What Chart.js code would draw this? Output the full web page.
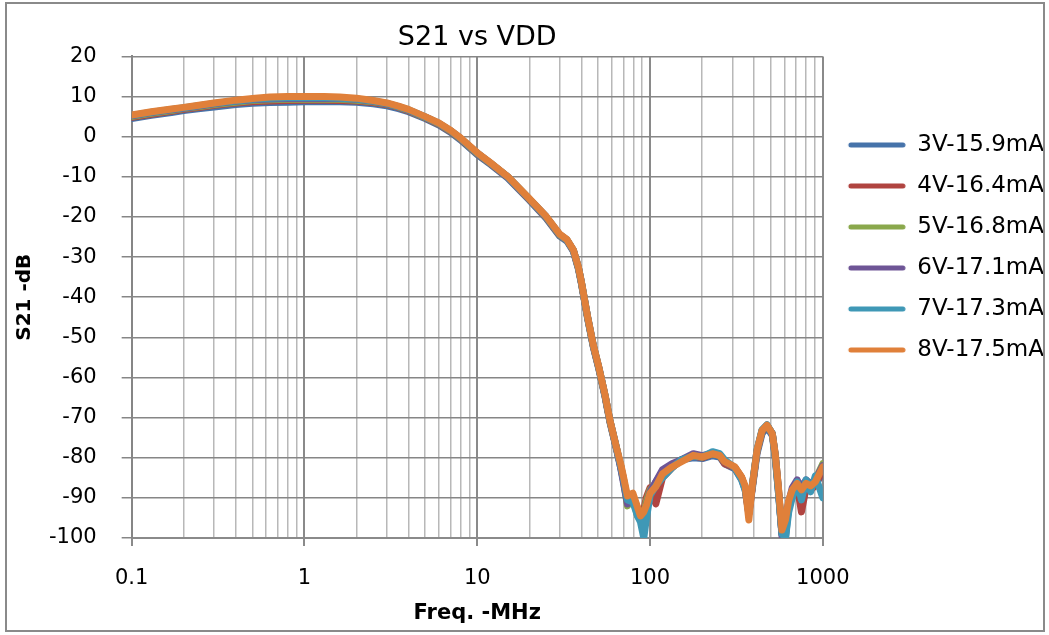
<!DOCTYPE html>
<html>
<head>
<meta charset="utf-8">
<script src="https://cdn.jsdelivr.net/npm/chart.js@4.4.1/dist/chart.umd.min.js"></script>
<style>
  body { margin: 0; background: #fff; }
  #wrap { position: relative; width: 1049px; height: 635px; }
  #frame { position: absolute; left: 5px; top: 2px; width: 1036px; height: 626px; border: 2px solid #8a8a8a; pointer-events: none; }
  canvas { position: absolute; left: 0; top: 0; }
</style>
</head>
<body>
<div id="wrap">
  <canvas id="s21Chart" width="1049" height="635"></canvas>
  <div id="frame"></div>
</div>
<script>
// frequency points, MHz
const freq = [0.1, 0.13, 0.17, 0.2, 0.25, 0.3, 0.4, 0.5, 0.63, 0.8,
  1, 1.3, 1.6, 2, 2.5, 3, 3.5, 4, 5, 6,
  7, 8, 10, 12, 15, 20, 25, 30, 33, 36,
  38.5, 40, 43.6, 47, 50.6, 55, 58.5, 64, 67.6, 70,
  74, 79.5, 84.6, 88, 92, 95, 100, 108, 118, 134,
  152, 178, 201, 230, 253, 270, 310, 339, 355, 373,
  390, 416, 445, 475, 510, 530, 553, 580, 608, 635,
  665, 710, 752, 800, 850, 905, 1000];

// S21 in dB for each supply voltage
const s3V = [4.5, 5.3, 6.0, 6.5, 7.0, 7.4, 8.0, 8.3, 8.5, 8.6,
  8.7, 8.7, 8.7, 8.6, 8.2, 7.7, 7.0, 6.2, 4.5, 2.9,
  1.1, -0.8, -4.5, -7.0, -10.3, -15.8, -20.3, -24.8, -26.0, -28.6,
  -33.0, -36.5, -45.5, -52.5, -58.0, -65.0, -71.0, -78.0, -82.5, -85.5,
  -91.0, -90.0, -93.5, -95.0, -94.0, -92.5, -89.0, -86.0, -83.5, -82.0,
  -80.5, -80.0, -80.2, -79.5, -79.8, -81.5, -82.8, -85.5, -88.0, -94.0,
  -88.0, -79.0, -74.0, -72.5, -74.5, -80.0, -88.5, -99.0, -100.0, -92.0,
  -89.0, -87.0, -88.5, -87.0, -87.5, -86.5, -84.0];
const s4V = [4.8, 5.6, 6.3, 6.8, 7.3, 7.8, 8.4, 8.7, 8.9, 9.0,
  9.1, 9.1, 9.0, 8.9, 8.5, 8.0, 7.3, 6.4, 4.7, 3.1,
  1.3, -0.6, -4.3, -6.8, -10.1, -15.6, -20.1, -24.6, -25.8, -28.4,
  -32.8, -36.3, -45.3, -52.3, -57.8, -64.8, -70.8, -77.8, -82.0, -85.0,
  -90.5, -89.5, -92.5, -94.0, -93.0, -90.0, -87.5, -91.5, -85.0, -82.5,
  -80.5, -79.5, -80.0, -79.0, -79.5, -81.5, -82.5, -85.0, -87.5, -94.0,
  -87.5, -78.5, -73.5, -72.0, -74.0, -79.5, -88.0, -98.5, -96.0, -91.0,
  -88.5, -87.0, -93.5, -87.5, -88.0, -87.0, -83.0];
const s5V = [5.0, 5.8, 6.5, 7.0, 7.5, 8.0, 8.6, 9.0, 9.2, 9.3,
  9.3, 9.3, 9.3, 9.1, 8.7, 8.1, 7.4, 6.5, 4.8, 3.2,
  1.4, -0.5, -4.2, -6.7, -10.0, -15.5, -20.0, -24.5, -25.7, -28.3,
  -32.7, -36.2, -45.2, -52.2, -57.7, -64.7, -70.7, -77.7, -82.0, -85.5,
  -92.0, -90.0, -94.5, -95.5, -94.0, -91.0, -88.0, -86.5, -84.0, -82.0,
  -80.5, -79.5, -79.8, -79.0, -79.5, -81.0, -82.5, -85.0, -87.5, -93.0,
  -87.5, -78.3, -73.3, -72.0, -74.0, -79.2, -87.5, -99.0, -98.0, -92.5,
  -89.0, -87.0, -88.0, -86.5, -86.5, -85.5, -81.5];
const s6V = [5.2, 6.0, 6.7, 7.1, 7.7, 8.2, 8.8, 9.2, 9.4, 9.5,
  9.5, 9.5, 9.5, 9.3, 8.8, 8.2, 7.5, 6.6, 4.9, 3.3,
  1.5, -0.4, -4.1, -6.7, -10.0, -15.5, -19.9, -24.4, -25.7, -28.3,
  -32.6, -36.1, -45.1, -52.1, -57.6, -64.6, -70.6, -77.6, -82.5, -86.0,
  -91.5, -90.5, -93.5, -95.0, -94.5, -92.0, -88.5, -86.0, -83.0, -81.5,
  -80.5, -79.0, -79.5, -78.8, -79.2, -81.0, -82.5, -85.0, -87.5, -93.5,
  -87.5, -78.2, -73.2, -71.9, -74.0, -79.0, -87.5, -99.5, -97.0, -91.0,
  -87.5, -85.5, -87.5, -85.5, -86.5, -85.5, -82.0];
const s7V = [5.3, 6.1, 6.8, 7.2, 7.8, 8.3, 8.9, 9.3, 9.6, 9.7,
  9.7, 9.7, 9.6, 9.4, 8.9, 8.3, 7.5, 6.7, 4.9, 3.3,
  1.5, -0.4, -4.1, -6.7, -10.0, -15.5, -19.9, -24.4, -25.7, -28.3,
  -32.6, -36.1, -45.1, -52.1, -57.6, -64.6, -70.6, -77.6, -82.0, -85.0,
  -90.5, -91.0, -94.5, -96.0, -100.0, -95.5, -89.5, -87.0, -85.0, -82.5,
  -80.5, -79.5, -79.8, -78.5, -79.0, -80.5, -82.5, -85.5, -88.0, -93.0,
  -87.0, -78.0, -73.0, -71.8, -74.0, -79.5, -88.5, -99.0, -100.0, -93.5,
  -90.0, -86.0, -90.5, -85.5, -88.5, -84.5, -90.0];
const s8V = [5.4, 6.2, 6.9, 7.3, 7.9, 8.4, 9.1, 9.5, 9.9, 10.0,
  10.0, 10.0, 9.9, 9.6, 9.0, 8.4, 7.6, 6.8, 5.0, 3.4,
  1.6, -0.3, -4.0, -6.6, -9.9, -15.4, -19.8, -24.3, -25.6, -28.2,
  -32.5, -36.0, -45.0, -52.0, -57.5, -64.5, -70.5, -77.5, -81.5, -84.5,
  -89.5, -88.8, -92.3, -94.5, -93.5, -92.0, -88.8, -87.2, -84.0, -82.3,
  -81.0, -79.4, -79.8, -79.0, -79.4, -81.0, -82.3, -84.8, -87.0, -95.5,
  -87.2, -78.1, -73.2, -71.9, -74.0, -79.0, -87.2, -98.0, -95.5, -90.6,
  -88.0, -86.4, -88.0, -86.4, -87.0, -86.0, -82.3];

const seriesNames = ["3V-15.9mA", "4V-16.4mA", "5V-16.8mA", "6V-17.1mA", "7V-17.3mA", "8V-17.5mA"];
const seriesColors = ["#4673aa", "#b04440", "#8aa84c", "#6e5596", "#3f98b6", "#e0803a"];

// x axis: labels only on decades, grid on every 1..9 step
const decades = [0.1, 1, 10, 100, 1000];
const decadeLabels = ["0.1", "1", "10", "100", "1000"];
let gridValues = [];
for (let d = 0; d < decades.length - 1; d++) {
  for (let k = 1; k < 10; k++) gridValues.push(decades[d] * k);
}
gridValues.push(1000);

function isDecade(v) {
  return decades.indexOf(v) >= 0;
}

// legend swatch: a short thick line, shifted right a little
function legendLine(color) {
  const c = document.createElement("canvas");
  c.width = 65;
  c.height = 8;
  const g = c.getContext("2d");
  g.strokeStyle = color;
  g.lineWidth = 5;
  g.lineCap = "round";
  g.beginPath();
  g.moveTo(10, 4);
  g.lineTo(62, 4);
  g.stroke();
  return c;
}

const font = "DejaVu Sans";
const allSeries = [s3V, s4V, s5V, s6V, s7V, s8V];

const datasets = allSeries.map(function (vals, i) {
  return {
    label: seriesNames[i],
    data: freq.map(function (f, j) { return { x: f, y: vals[j] }; }),
    borderColor: seriesColors[i],
    backgroundColor: seriesColors[i],
    borderWidth: 7,
    pointRadius: 0,
    tension: 0,
    borderJoinStyle: "round",
    borderCapStyle: "round",
    order: allSeries.length - 1 - i // last series (8V) drawn on top
  };
});

const ctx = document.getElementById("s21Chart").getContext("2d");
new Chart(ctx, {
  type: "line",
  data: { datasets: datasets },
  options: {
    responsive: false,
    animation: false,
    devicePixelRatio: 1,
    layout: { padding: { left: 9, right: -5, top: 0, bottom: 5 } },
    plugins: {
      tooltip: { enabled: false },
      title: {
        display: true,
        text: "S21 vs VDD",
        fullSize: false,
        color: "#000",
        font: { family: font, size: 27, weight: "normal" },
        padding: { top: 22, bottom: 2 }
      },
      legend: {
        position: "right",
        align: "start",
        title: { display: true, text: " ", font: { size: 10 }, padding: { top: 103.5, bottom: 0 } },
        labels: {
          usePointStyle: true,
          pointStyleWidth: 65,
          padding: 18,
          color: "#000",
          font: { family: font, size: 23 },
          sort: function (a, b) { return a.datasetIndex - b.datasetIndex; },
          generateLabels: function (chart) {
            return Chart.defaults.plugins.legend.labels.generateLabels(chart).map(function (item) {
              item.lineWidth = 0;
              item.pointStyle = legendLine(seriesColors[item.datasetIndex]);
              return item;
            });
          }
        }
      }
    },
    scales: {
      x: {
        type: "logarithmic",
        min: 0.1,
        max: 1000,
        afterBuildTicks: function (axis) {
          axis.ticks = gridValues.map(function (v) { return { value: v }; });
        },
        afterFit: function (axis) {
          axis.height = 92;
        },
        ticks: {
          autoSkip: false,
          maxRotation: 0,
          color: "#000",
          padding: 20,
          font: { family: font, size: 21 },
          callback: function (value) {
            const i = decades.indexOf(value);
            return i >= 0 ? decadeLabels[i] : "";
          }
        },
        grid: {
          color: function (c) { return c.tick && isDecade(c.tick.value) ? "#8a8a8a" : "#b8b8b8"; },
          lineWidth: function (c) { return c.tick && isDecade(c.tick.value) ? 2 : 1.5; },
          tickLength: 8,
          tickColor: function (c) { return c.tick && isDecade(c.tick.value) ? "#8a8a8a" : "rgba(0,0,0,0)"; }
        },
        border: { color: "#8a8a8a", width: 2 },
        title: {
          display: true,
          text: "Freq. -MHz",
          color: "#000",
          font: { family: font, size: 21, weight: "bold" },
          padding: { top: 10, bottom: 4 }
        }
      },
      y: {
        min: -100,
        max: 20,
        ticks: {
          stepSize: 10,
          color: "#000",
          padding: 25,
          font: { family: font, size: 21 }
        },
        grid: { color: "#868686", lineWidth: 1.5, tickLength: 10 },
        border: { color: "#868686", width: 2 },
        title: {
          display: true,
          text: "S21 -dB",
          color: "#000",
          font: { family: font, size: 20, weight: "bold" },
          padding: { top: 4, bottom: -13 }
        }
      }
    }
  }
});
</script>
</body>
</html>
